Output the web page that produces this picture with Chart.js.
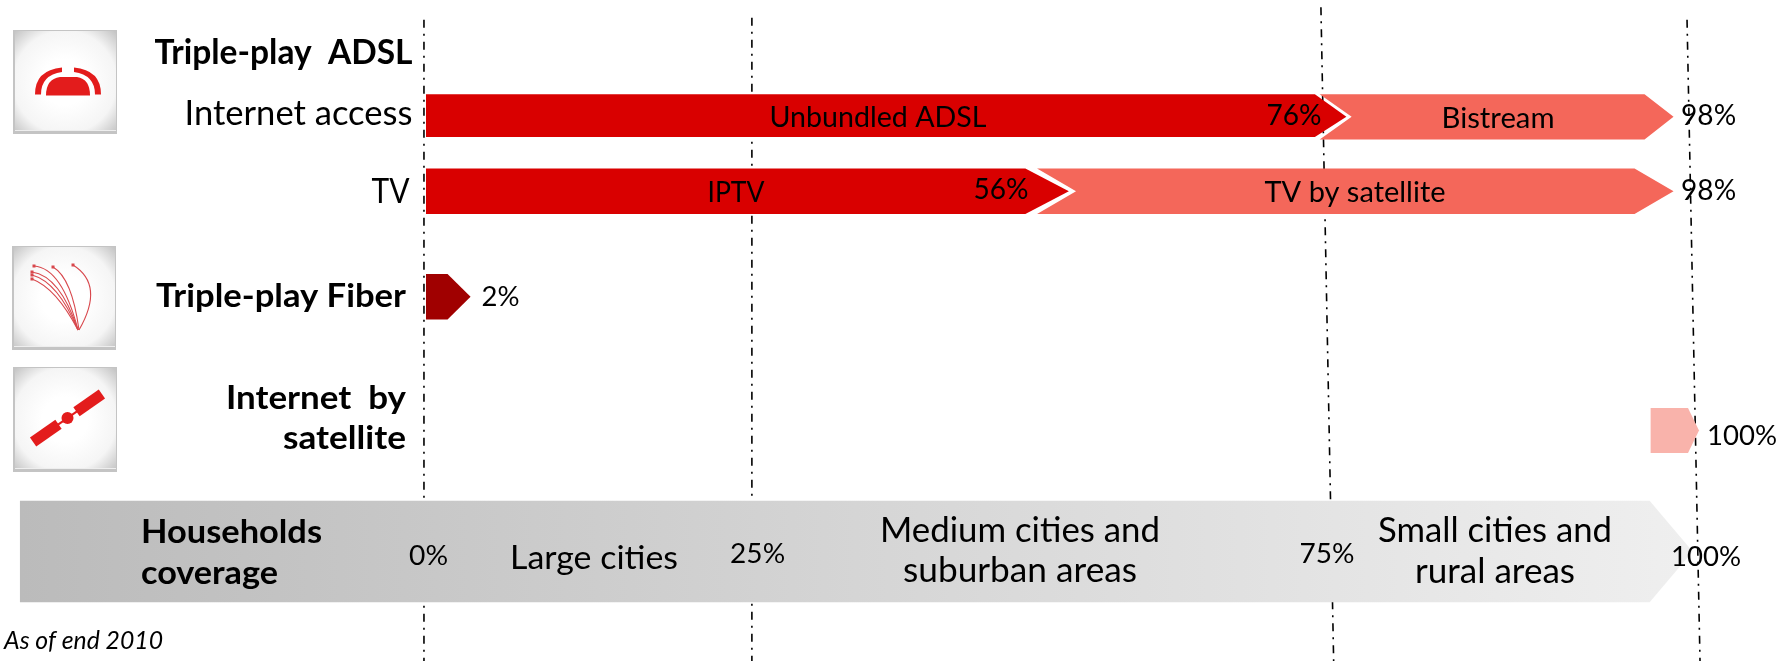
<!DOCTYPE html>
<html><head><meta charset="utf-8">
<style>html,body{margin:0;padding:0;background:#fff}canvas{display:block}</style>
<script src="https://cdn.jsdelivr.net/npm/chart.js@4/dist/chart.umd.min.js"></script>
</head><body><canvas id="c" width="1789" height="661"></canvas>
<script>
// Values are read off the picture. The x axis is the schematic position along the
// households-coverage band (0 = left edge of bars, 100 = tip of the 100% arrow).
const unbundledADSL = [0, 72.3];
const bistream      = [70.2, 98.0];
const iptv          = [0, 50.5];
const tvBySatellite = [48.0, 98.0];
const fiber         = [0, 3.5];
const internetSat   = [96.2, 100];
const householdBand = [-31.9, 99.5];
const coverageLabels = ['76%', '98%', '56%', '98%', '2%', '100%'];
const bandTicks = ['0%', '25%', '75%', '100%'];
const gridTop = [-0.16, 25.6, 70.3, 99.06];
const gridBottom = [-0.16, 25.6, 71.3, 100.08];
const gridStart = [3.0, 2.7, 1.1, 3.0];

// layout: row centres in percent of chart height
const ROW = {internet: 17.5, bistream: 17.67, tv: 28.93, fiber: 44.9, sat: 65.13, band: 83.45};
const RED = '#d90000', SALMON = '#f4675a', DARK = '#a00000', PINK = '#f9b3ab';
const F = 'Lato, Carlito, sans-serif';

// Arrow-shaped bars: still positioned by the library, only the outline differs
Chart.BarElement.prototype.draw = function (ctx) {
  const {x, y, base, height} = this.getProps(['x', 'y', 'base', 'height'], false);
  const ds = this.$ds;
  const top = y - height / 2, bot = y + height / 2, mid = y + (ds.tipShift || 0);
  const sh = x - ds.tip;
  ctx.save();
  ctx.beginPath();
  ctx.moveTo(base, top);
  ctx.lineTo(sh, top);
  ctx.lineTo(x, mid);
  ctx.lineTo(sh, bot);
  ctx.lineTo(base, bot);
  if (ds.notch) ctx.lineTo(base + ds.notch, mid);
  ctx.closePath();
  ctx.fillStyle = this.options.backgroundColor;
  ctx.fill();
  ctx.restore();
};

function bar(label, range, row, thick, color, tip, extra) {
  return Object.assign({label, data: [{x: range, y: row}], barThickness: thick, grouped: false,
    backgroundColor: color, tip, order: 1}, extra || {});
}
function gridLine(i) {
  return {type: 'line', label: 'grid ' + bandTicks[i], indexAxis: 'y',
    data: [{x: gridTop[i], y: gridStart[i]}, {x: gridBottom[i], y: 100}],
    borderColor: '#000', borderWidth: 1.6, borderDash: [8, 6, 2, 6],
    pointRadius: 0, order: 10, tension: 0, fill: false};
}

const TEXTS = [
  ['Triple-play  ADSL', 412.5, 53, 34, 'bold', 'right', 258],
  ['Internet access', 412.5, 114, 34, 'normal', 'right', 228],
  ['TV', 409.5, 192, 34, 'normal', 'right', 38],
  ['Triple-play Fiber', 406, 296.5, 33, 'bold', 'right', 250],
  ['Internet  by', 406, 398.5, 33, 'bold', 'right', 180],
  ['satellite', 406, 438.5, 33, 'bold', 'right', 123],
  ['Households', 141, 532.5, 33, 'bold', 'left', 181],
  ['coverage', 141, 573, 33, 'bold', 'left', 137],
  ['As of end 2010', 4, 641, 25, 'italic', 'left', 159],
  ['Large cities', 594, 559, 32, 'normal', 'center', 168],
  ['Medium cities and', 1020, 531.5, 34, 'normal', 'center', 280],
  ['suburban areas', 1020, 571.5, 34, 'normal', 'center', 234],
  ['Small cities and', 1495, 531.5, 34, 'normal', 'center', 234],
  ['rural areas', 1495, 572, 34, 'normal', 'center', 160],
  ['Unbundled ADSL', 878, 118, 29, 'normal', 'center', 217],
  ['Bistream', 1498, 119, 29, 'normal', 'center', 113],
  ['IPTV', 736, 193, 29, 'normal', 'center', 57],
  ['TV by satellite', 1355, 193, 29, 'normal', 'center', 181],
  [bandTicks[0], 428.6, 556, 27, 'normal', 'center', 39],
  [bandTicks[1], 757.6, 554, 27, 'normal', 'center', 55],
  [bandTicks[2], 1327, 554, 27, 'normal', 'center', 55],
  [bandTicks[3], 1706, 557, 27, 'normal', 'center', 70],
  [coverageLabels[0], 1294, 116, 29, 'normal', 'center', 55],
  [coverageLabels[1], 1708.6, 116, 29, 'normal', 'center', 55],
  [coverageLabels[2], 1001, 190, 29, 'normal', 'center', 55],
  [coverageLabels[3], 1708.6, 191, 29, 'normal', 'center', 55],
  [coverageLabels[4], 500.6, 297, 27, 'normal', 'center', 38],
  [coverageLabels[5], 1742, 436, 27, 'normal', 'center', 70]
];

function tile(ctx, x, y, w, h) {
  ctx.save();
  ctx.fillStyle = '#c4c4c4';
  ctx.fillRect(x, y, w, h);
  ctx.fillStyle = '#eeeeee';
  ctx.fillRect(x + 2, y + 1, w - 3, h - 4);
  const g = ctx.createRadialGradient(x + w / 2, y + h / 2, w * 0.22, x + w / 2, y + h / 2, w * 0.68);
  g.addColorStop(0, '#ffffff');
  g.addColorStop(0.6, '#f5f5f5');
  g.addColorStop(1, '#c6c6c6');
  ctx.fillStyle = g;
  ctx.fillRect(x + 2, y + 1, w - 3, h - 5);
  ctx.restore();
}

const decorations = {
  id: 'decorations',
  beforeDatasetsDraw(chart) {
    chart.data.datasets.forEach((d, i) => {
      if (d.type !== 'line') chart.getDatasetMeta(i).data.forEach(el => { el.$ds = d; });
    });
  },
  afterDatasetsDraw(chart) {
    const ctx = chart.ctx;
    // icon tiles
    tile(ctx, 13, 30, 104, 104);
    tile(ctx, 12, 246, 104, 104);
    tile(ctx, 13, 367, 104, 105);
    ctx.save();
    ctx.fillStyle = '#e31c1c';
    // modem icon
    ctx.beginPath();
    ctx.moveTo(46, 95.5);
    ctx.quadraticCurveTo(46, 79, 60, 77);
    ctx.lineTo(77, 77);
    ctx.quadraticCurveTo(90, 79, 90, 95.5);
    ctx.closePath();
    ctx.fill();
    ctx.beginPath();
    ctx.moveTo(35, 94.5); ctx.quadraticCurveTo(35, 70, 62, 67.5);
    ctx.lineTo(62, 72); ctx.quadraticCurveTo(41, 75, 41, 94.5); ctx.closePath();
    ctx.fill();
    ctx.beginPath();
    ctx.moveTo(101, 94.5); ctx.quadraticCurveTo(101, 70, 74, 67.5);
    ctx.lineTo(74, 72); ctx.quadraticCurveTo(95, 75, 95, 94.5); ctx.closePath();
    ctx.fill();
    // fibre icon
    ctx.strokeStyle = '#d8474c';
    ctx.lineWidth = 1.1;
    [[34, 266, 62, 268, 78, 330], [53, 267, 72, 278, 79, 330], [73, 265, 105, 285, 79, 330],
     [32, 272, 60, 276, 78, 330], [32, 275, 58, 282, 78, 330], [32, 279, 56, 288, 78, 330]].forEach(p => {
      ctx.beginPath(); ctx.moveTo(p[0], p[1]); ctx.quadraticCurveTo(p[2], p[3], p[4], p[5]); ctx.stroke();
      ctx.fillStyle = '#d8474c';
      ctx.fillRect(p[0] - 1.5, p[1] - 1.5, 3, 3);
    });
    // satellite icon
    ctx.fillStyle = '#e31c1c';
    ctx.translate(67.5, 418);
    ctx.beginPath(); ctx.arc(0, 0, 6, 0, 7); ctx.fill();
    ctx.rotate(-35 * Math.PI / 180);
    ctx.fillRect(11, -5.5, 31, 11);
    ctx.fillRect(-42, -5.5, 31, 11);
    ctx.fillRect(-12, -1, 24, 2);
    ctx.restore();
    // text, fitted to the measured width of each label
    ctx.save();
    ctx.fillStyle = '#000';
    ctx.textBaseline = 'middle';
    TEXTS.forEach(([t, x, y, size, style, align, w]) => {
      ctx.font = (style === 'bold' ? 'bold ' : style === 'italic' ? 'italic ' : '') + size + 'px ' + F;
      ctx.textAlign = align;
      const k = w / ctx.measureText(t).width;
      ctx.save();
      ctx.translate(x, y);
      ctx.scale(k, 1);
      ctx.fillText(t, 0, 0);
      ctx.restore();
    });
    ctx.restore();
  }
};

new Chart(document.getElementById('c'), {
  type: 'bar',
  data: {datasets: [
    bar('Households coverage', householdBand, ROW.band, 101.5, (c) => {
      const g = c.chart.ctx.createLinearGradient(20, 0, 1690, 0);
      g.addColorStop(0, '#bbbbbb');
      g.addColorStop(1, '#efefef');
      return g;
    }, 43),
    bar('Bistream', bistream, ROW.bistream, 45.3, SALMON, 29, {notch: 32, order: 2}),
    bar('TV by satellite', tvBySatellite, ROW.tv, 45.5, SALMON, 39, {notch: 39, order: 2}),
    bar('Unbundled ADSL', unbundledADSL, ROW.internet, 42.7, RED, 31.5, {tipShift: 1}),
    bar('IPTV', iptv, ROW.tv, 45.5, RED, 43.5),
    bar('Triple-play Fiber', fiber, ROW.fiber, 45.5, DARK, 23),
    bar('Internet by satellite', internetSat, ROW.sat, 45, PINK, 11),
    gridLine(0), gridLine(1), gridLine(2), gridLine(3)
  ]},
  options: {
    indexAxis: 'y',
    responsive: false,
    animation: false,
    layout: {padding: 0},
    plugins: {legend: {display: false}, tooltip: {enabled: false}, title: {display: false}},
    scales: {
      x: {type: 'linear', display: false, min: -426 / 12.73, max: (1789 - 426) / 12.73, offset: false},
      y: {type: 'linear', display: false, min: 0, max: 100, reverse: true, offset: false}
    }
  },
  plugins: [decorations]
});
</script></body></html>
